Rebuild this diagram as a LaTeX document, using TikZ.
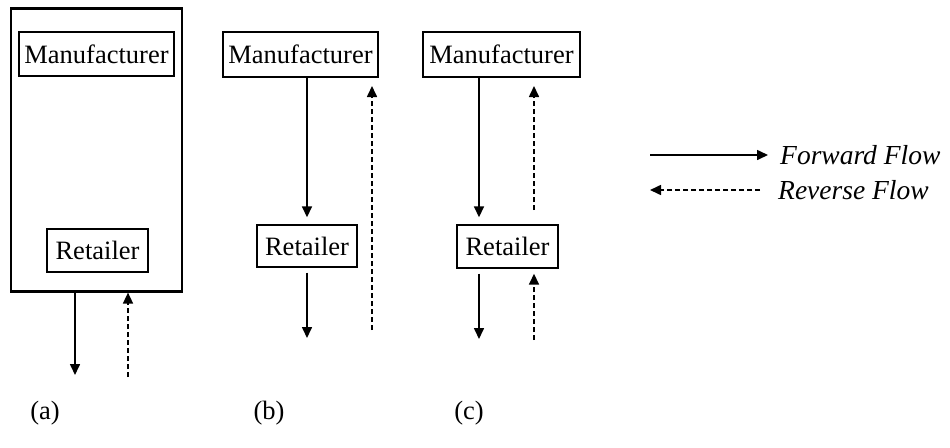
\documentclass[tikz,border=0pt]{standalone}
\usepackage{fontspec}
\setmainfont{Liberation Serif}
\usetikzlibrary{arrows.meta}
\begin{document}
\begin{tikzpicture}[x=1pt,y=-1pt,
  every node/.style={font=\fontsize{26.5}{30}\selectfont},
  box/.style={draw,line width=1.4pt,rectangle,inner sep=0pt},
  fwd/.style={line width=1.6pt,-{Triangle[length=11pt,width=10pt]}},
  rev/.style={line width=1.6pt,dash pattern=on 5pt off 3pt,-{Triangle[length=11pt,width=10pt]}},
  lbl/.style={inner sep=0pt}]
\useasboundingbox (0,0) rectangle (950,447);
% (a)
\node[box,line width=2.2pt,minimum width=171pt,minimum height=283pt] (outer) at (96.5,150) {};
\node[box,minimum width=155pt,minimum height=44pt] (am) at (96.5,54) {Manufacturer};
\node[box,minimum width=101pt,minimum height=43pt] (ar) at (97.5,250.5) {Retailer};
\coordinate (a1) at (75,375);
\coordinate (a2) at (128,377);
\draw[fwd] (outer.south -| a1) -- (a1);
\draw[rev] (a2) -- (outer.south -| a2);
\node[lbl] (la) at (45,413) {(a)};
% (b)
\node[box,minimum width=155pt,minimum height=45pt] (bm) at (300.5,54.5) {Manufacturer};
\node[box,minimum width=100pt,minimum height=42pt] (br) at (307,246) {Retailer};
\coordinate (b1) at (307,338);
\coordinate (b2) at (372,330);
\coordinate (b3) at (372,86);
\draw[fwd,shorten >=7pt] (bm.south -| b1) -- (br.north -| b1);
\draw[fwd,shorten <=5pt] (br.south -| b1) -- (b1);
\draw[rev] (b2) -- (b3);
\node[lbl] (lb) at (269,413) {(b)};
% (c)
\node[box,minimum width=157pt,minimum height=45pt] (cm) at (501.5,54.5) {Manufacturer};
\node[box,minimum width=101pt,minimum height=43pt] (cr) at (507.5,246.5) {Retailer};
\coordinate (c1) at (479,339);
\coordinate (c2) at (534,210);
\coordinate (c3) at (534,86);
\coordinate (c4) at (534,340);
\draw[fwd,shorten >=7pt] (cm.south -| c1) -- (cr.north -| c1);
\draw[fwd,shorten <=5pt] (cr.south -| c1) -- (c1);
\draw[rev] (c2) -- (c3);
\draw[rev,shorten >=5pt] (c4) -- (cr.south -| c4);
\node[lbl] (lc) at (469,413) {(c)};
% legend
\coordinate (f1) at (650,155);
\coordinate (f2) at (768,155);
\coordinate (r1) at (760,190);
\coordinate (r2) at (650,190);
\draw[fwd] (f1) -- (f2);
\draw[rev] (r1) -- (r2);
\node[lbl,anchor=west,font=\fontsize{27.5}{30}\selectfont\itshape] (tf) at (780,155) {Forward Flow};
\node[lbl,anchor=west,font=\fontsize{27.5}{30}\selectfont\itshape] (tr) at (778,190) {Reverse Flow};
\end{tikzpicture}
\end{document}
